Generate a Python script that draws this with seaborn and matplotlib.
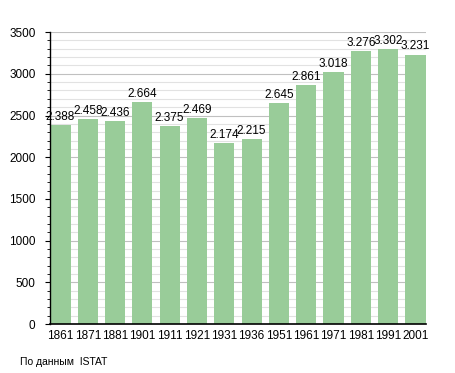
import matplotlib
matplotlib.use("Agg")
import matplotlib.pyplot as plt
import pandas as pd
import seaborn as sns
from matplotlib.ticker import MultipleLocator

years = ["1861", "1871", "1881", "1901", "1911", "1921", "1931",
         "1936", "1951", "1961", "1971", "1981", "1991", "2001"]
population = [2388, 2458, 2436, 2664, 2375, 2469, 2174,
              2215, 2645, 2861, 3018, 3276, 3302, 3231]

df = pd.DataFrame({"year": years, "pop": population})

sns.set_style("white")
plt.rcParams["font.family"] = ["Liberation Sans", "DejaVu Sans"]
plt.rcParams["text.color"] = "black"
plt.rcParams["xtick.color"] = "black"
plt.rcParams["ytick.color"] = "black"

fig = plt.figure(figsize=(4.55, 3.73), dpi=100)
ax = fig.add_axes([0.11, 0.131, 0.826, 0.783])
ax.set_axisbelow(True)

sns.barplot(df, x="year", y="pop", color="#99cc99", saturation=1, width=0.74,
            linewidth=0, edgecolor="none", ax=ax)

ax.set_ylim(0, 3500)
ax.set_xlim(-0.38, len(years) - 0.62)
ax.yaxis.set_major_locator(MultipleLocator(500))
ax.yaxis.set_minor_locator(MultipleLocator(100))
ax.grid(axis="y", which="minor", color="#e2e2e2", linewidth=0.8)
ax.grid(axis="y", which="major", color="#c0c0c0", linewidth=0.8)
ax.grid(axis="x", visible=False)

for s in ["top", "right"]:
    ax.spines[s].set_visible(False)
ax.spines["left"].set_color("black")
ax.spines["bottom"].set_color("black")
ax.spines["left"].set_linewidth(1)
ax.spines["bottom"].set_linewidth(1.2)
ax.spines["left"].set_zorder(5)
ax.spines["bottom"].set_zorder(5)

ax.tick_params(axis="y", which="major", left=True, length=3.5, width=0.8, labelsize=8.5, pad=7)
ax.tick_params(axis="y", which="minor", left=True, length=2.5, width=0.6)
ax.tick_params(axis="x", which="both", bottom=False, labelsize=8.5, pad=1)
ax.set_xlabel("")
ax.set_ylabel("")

for i, v in enumerate(population):
    ax.text(i, v + 25, f"{v:,}".replace(",", "."), ha="center", va="bottom", fontsize=8.5)

fig.text(20 / 455, 1 - 362 / 373, "По данным  ISTAT", fontsize=7.5, va="center", ha="left")

fig.savefig("out.png", dpi=100)
